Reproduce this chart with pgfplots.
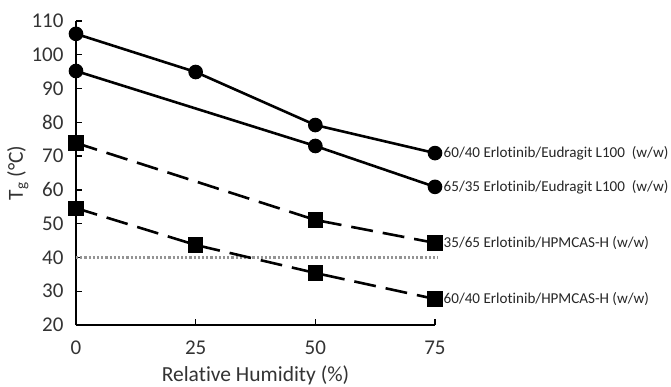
\documentclass[border=0pt]{standalone}
\usepackage{pgfplots}
\pgfplotsset{compat=1.18}
\usepackage{fontspec}
\setmainfont{Carlito}[Ligatures=NoCommon]
\begin{document}
\begin{tikzpicture}[x=1pt,y=1pt]
\path[use as bounding box] (-76pt,-61pt) rectangle (595pt,325pt);
\begin{axis}[
  at={(0pt,0pt)}, anchor=origin,
  scale only axis, width=359pt, height=304pt,
  xmin=0, xmax=75, ymin=20, ymax=110,
  axis lines*=left,
  axis line style={line width=1.3pt, black},
  every tick/.style={line width=1.3pt, black},
  tick align=inside, major tick length=6pt,
  xtick={0,25,50,75}, ytick={20,30,...,110},
  /pgf/number format/assume math mode=true,
  tick label style={font=\fontsize{21}{23}\selectfont, text=black!80},
  yticklabel style={xshift=-9pt},
  xticklabel style={yshift=-12pt},
  xlabel={Relative Humidity (\%)},
  ylabel={T\textsubscript{g} (°C)},
  label style={font=\fontsize{21.5}{23}\selectfont, text=black!80},
  xlabel style={at={(axis description cs:0.5,0)}, anchor=north, inner sep=0pt, yshift=-41pt},
  ylabel style={at={(axis description cs:0,0.5)}, anchor=south, yshift=44pt},
  clip=false,
  every axis plot/.append style={line width=2.6pt, black},
]
\addplot[black!42, line width=2.2pt, dash pattern=on 2.2pt off 2pt] coordinates {(0,40) (75.5,40)};
\addplot[mark=*, mark size=6pt] coordinates {(0,106.2) (25,94.9) (50,79.2) (75,70.9)};
\addplot[mark=*, mark size=6pt] coordinates {(0,95.2) (50,73.0) (75,60.9)};
\addplot[mark=square*, mark size=6.3pt, dash pattern=on 22pt off 10pt, mark options={solid}] coordinates {(0,73.9) (50,51.1) (75,44.3)};
\addplot[mark=square*, mark size=6.3pt, dash pattern=on 22pt off 10pt, mark options={solid}] coordinates {(0,54.6) (25,43.7) (50,35.4) (75,27.7)};
\begin{scope}[every node/.style={anchor=west, font=\fontsize{15.1}{16}\selectfont, text=black!85, inner sep=0pt, xshift=8.5pt}]
\node at (axis cs:75,70.9) {60/40 Erlotinib/Eudragit L100\ \ (w/w)};
\node at (axis cs:75,60.9) {65/35 Erlotinib/Eudragit L100\ \ (w/w)};
\node at (axis cs:75,44.3) {35/65 Erlotinib/HPMCAS-H (w/w)};
\node at (axis cs:75,27.7) {60/40 Erlotinib/HPMCAS-H (w/w)};
\end{scope}
\end{axis}
\end{tikzpicture}
\end{document}
